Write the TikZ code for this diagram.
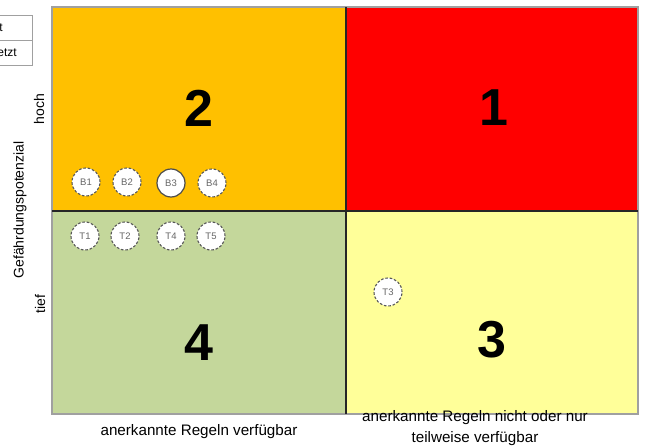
\documentclass[tikz,border=0pt]{standalone}
\usepackage{fontspec}
\setmainfont{Liberation Sans}
\usepackage{tikz}
\usetikzlibrary{positioning}
\definecolor{feldOrange}{RGB}{255,192,0}
\definecolor{feldRot}{RGB}{255,0,0}
\definecolor{feldGruen}{RGB}{196,215,155}
\definecolor{feldGelb}{RGB}{255,255,153}
\definecolor{rahmenGrau}{RGB}{160,160,160}

\begin{document}
\begin{tikzpicture}[
    x=1pt, y=-1pt,
    massnahme/.style={
        circle,
        draw=black!65,
        dash pattern=on 2.6pt off 1.8pt,
        line width=1.1pt,
        fill=white,
        minimum size=28pt,
        inner sep=0pt,
        text=black!60,
        font=\fontsize{9.5}{11}\selectfont
    },
    ziffer/.style={font=\fontsize{52}{60}\selectfont\bfseries},
    achse/.style={font=\fontsize{14}{16}\selectfont},
    achsex/.style={font=\fontsize{15.2}{21}\selectfont}
]
\useasboundingbox (0,0) rectangle (645,447);

% Legende (abgeschnitten)
\begin{scope}
\clip (0,0) rectangle (645,447);
\draw[
    rahmenGrau,
    line width=0.8pt
] (-30,15) rectangle (32,40)
  (-30,40) rectangle (32,65);
\node[anchor=east, inner sep=0pt, font=\fontsize{12}{14}\selectfont] (legende1) at (3,28) {t};
\node[anchor=east, inner sep=0pt, font=\fontsize{12}{14}\selectfont] (legende2) at (17,53) {etzt};
\end{scope}

% Quadranten
\fill[feldOrange] (52,7) rectangle (346,211);
\fill[feldRot] (346,7) rectangle (638,211);
\fill[feldGruen] (52,211) rectangle (346,414);
\fill[feldGelb] (346,211) rectangle (638,414);

% Rahmen
\draw[
    rahmenGrau,
    line width=2pt
] (52,7) rectangle (638,414);

% Trennlinien
\draw[
    black!85,
    line width=2pt
] (346,7) -- (346,414)
  (52,211) -- (638,211);

% Ziffern
\node[ziffer] (q2) at (199,108) {2};
\node[ziffer] (q1) at (494,108) {1};
\node[ziffer] (q4) at (199,343) {4};
\node[ziffer] (q3) at (492,340) {3};

% Massnahmen
\node[massnahme] (b1) at (86,182) {B1};
\node[massnahme] (b2) at (127,182) {B2};
\node[massnahme, solid, draw=black!70, line width=1.2pt] (b3) at (171,183) {B3};
\node[massnahme] (b4) at (212,183) {B4};

\node[massnahme] (t1) at (85,236) {T1};
\node[massnahme] (t2) at (125,236) {T2};
\node[massnahme] (t4) at (171,236) {T4};
\node[massnahme] (t5) at (211,236) {T5};

\node[massnahme] (t3) at (388,292) {T3};

% Achsen
\node[achse, rotate=90] (hoch) at (39,109) {hoch};
\node[achse, rotate=90] (tief) at (40,304) {tief};
\node[achse, rotate=90] (potenzial) at (20,210) {Gefährdungspotenzial};

\node[achsex] (verfuegbar) at (199,432) {anerkannte Regeln verfügbar};
\node[achsex, align=center] (teilweise) at (475,428) {anerkannte Regeln nicht oder nur\\teilweise verfügbar};

\end{tikzpicture}
\end{document}
